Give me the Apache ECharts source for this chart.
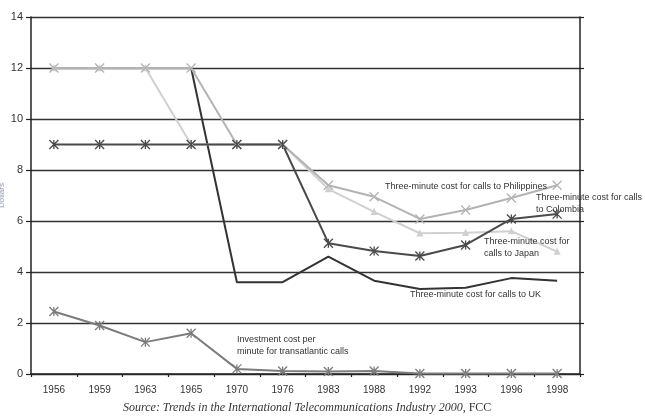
<!DOCTYPE html>
<html>
<head>
<meta charset="utf-8">
<script src="https://cdn.jsdelivr.net/npm/echarts@6/dist/echarts.min.js"></script>
<style>
  html, body { margin: 0; padding: 0; background: #fff; }
  #chart { width: 645px; height: 416px; }
</style>
</head>
<body>
<div id="chart"></div>
<script>
// categories and values
var years = ['1956', '1959', '1963', '1965', '1970', '1976', '1983', '1988', '1992', '1993', '1996', '1998'];
var philippines = [12, 12, 12, 12, 9, 9, 7.4, 6.95, 6.08, 6.43, 6.9, 7.4];
var japan = [12, 12, 12, 9, 9, 9, 7.25, 6.36, 5.52, 5.54, 5.6, 4.8];
var colombia = [9, 9, 9, 9, 9, 9, 5.13, 4.82, 4.63, 5.06, 6.08, 6.27];
var uk = [null, null, null, 12, 3.6, 3.6, 4.6, 3.66, 3.33, 3.38, 3.76, 3.66];
var investment = [2.45, 1.9, 1.25, 1.6, 0.2, 0.12, 0.1, 0.12, 0.02, 0.02, 0.02, 0.02];
var yTicks = { min: 0, max: 14, step: 2 };

var crossSym = 'path://M0,0L10,10M10,0L0,10';
var starSym = 'path://M0,0L10,10M10,0L0,10M5,0L5,10';

var chart = echarts.init(document.getElementById('chart'));

function lineSeries(name, data, color, symbol, size) {
    return {
        name: name,
        type: 'line',
        data: data,
        symbol: symbol,
        symbolSize: size,
        showSymbol: symbol !== 'none',
        connectNulls: false,
        lineStyle: { color: color, width: 2 },
        itemStyle: { color: color, borderColor: color, borderWidth: 1.3 },
        emphasis: { disabled: true },
        z: 3
    };
}

var noteStyle = { fontFamily: 'Arial, Liberation Sans, sans-serif', fontSize: 9, fill: '#333', lineHeight: 12 };

function note(left, top, text) {
    return { type: 'text', left: left, top: top, style: Object.assign({ text: text }, noteStyle), z: 10 };
}

chart.setOption({
    animation: false,
    grid: { left: 31, right: 65, top: 17, bottom: 42, containLabel: false, outerBoundsMode: 'none' },
    xAxis: {
        type: 'category',
        data: years,
        boundaryGap: true,
        axisLine: { lineStyle: { color: '#222', width: 1.5 } },
        axisTick: { show: true, length: 3, lineStyle: { color: '#222', width: 1.2 } },
        axisLabel: { color: '#333', fontSize: 10, fontFamily: 'Arial, Liberation Sans, sans-serif', margin: 11 }
    },
    yAxis: [
        {
            type: 'value',
            min: yTicks.min,
            max: yTicks.max,
            interval: yTicks.step,
            name: 'Dollars',
            nameLocation: 'middle',
            nameRotate: 90,
            nameGap: 25,
            nameMoveOverlap: false,
            nameTextStyle: { color: '#8a97ab', fontSize: 8, fontFamily: 'Arial, sans-serif' },
            axisLine: { show: true, lineStyle: { color: '#222', width: 1.5 } },
            axisTick: { show: true, length: 5, lineStyle: { color: '#222', width: 1.2 } },
            axisLabel: { color: '#333', fontSize: 11, fontFamily: 'Arial, Liberation Sans, sans-serif', margin: 8 },
            splitLine: { show: true, lineStyle: { color: '#333', width: 1.4 } }
        },
        {
            type: 'value',
            min: yTicks.min,
            max: yTicks.max,
            interval: yTicks.step,
            position: 'right',
            axisLine: { show: true, lineStyle: { color: '#222', width: 1.5 } },
            axisTick: { show: true, length: 4, lineStyle: { color: '#222', width: 1.2 } },
            axisLabel: { show: false },
            splitLine: { show: false }
        }
    ],
    series: [
        lineSeries('Investment', investment, '#7c7c7c', starSym, 9),
        lineSeries('UK', uk, '#333333', 'none', 0),
        lineSeries('Japan', japan, '#d0d0d0', 'triangle', 5),
        lineSeries('Philippines', philippines, '#b3b3b3', crossSym, 9),
        lineSeries('Colombia', colombia, '#4a4a4a', starSym, 9)
    ],
    graphic: [
        note(385, 181, 'Three-minute cost for calls to Philippines'),
        note(536, 192, 'Three-minute cost for calls\nto Colombia'),
        note(484, 236, 'Three-minute cost for\ncalls to Japan'),
        note(410, 289, 'Three-minute cost for calls to UK'),
        note(237, 334, 'Investment cost per\nminute for transatlantic calls'),
        {
            type: 'text',
            left: 123,
            top: 402,
            style: {
                text: '{i|Source: Trends in the International Telecommunications Industry 2000}{r|, FCC}',
                rich: {
                    i: { fontFamily: 'Liberation Serif, Times New Roman, serif', fontStyle: 'italic', fontSize: 12, fill: '#333' },
                    r: { fontFamily: 'Liberation Serif, Times New Roman, serif', fontSize: 12, fill: '#333' }
                }
            }
        }
    ]
});
</script>
</body>
</html>
